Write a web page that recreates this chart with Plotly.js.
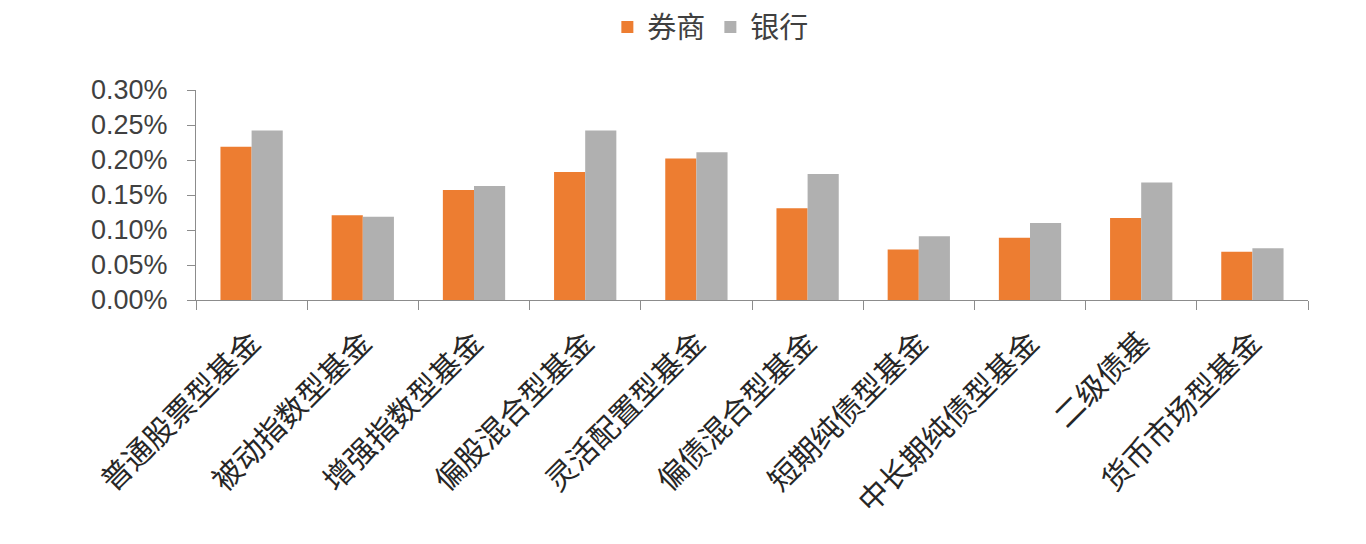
<!DOCTYPE html>
<html>
<head>
<meta charset="utf-8">
<script src="https://cdn.plot.ly/plotly-3.0.1.min.js"></script>
<style>
  html, body { margin: 0; padding: 0; background: #fff; }
  #chart { width: 1366px; height: 544px; }
</style>
</head>
<body>
<div id="chart"></div>
<script>
'use strict'

// fund categories along the x axis
const categories = ['普通股票型基金', '被动指数型基金', '增强指数型基金', '偏股混合型基金', '灵活配置型基金',
  '偏债混合型基金', '短期纯债型基金', '中长期纯债型基金', '二级债基', '货币市场型基金'];

// values in percent
const brokerValues = [0.219, 0.121, 0.157, 0.183, 0.202, 0.131, 0.072, 0.089, 0.117, 0.069];
const bankValues = [0.242, 0.119, 0.163, 0.242, 0.211, 0.180, 0.091, 0.110, 0.168, 0.074];

const seriesNames = ['券商', '银行'];
const cjkFont = '"Noto Sans CJK SC", "Noto Sans", sans-serif';

let brokerTrace = {
    x: categories,
    y: brokerValues,
    name: seriesNames[0],
    type: 'bar',
    marker: { color: '#ED7D31' },
    hoverinfo: 'x+y'
}

let bankTrace = {
    x: categories,
    y: bankValues,
    name: seriesNames[1],
    type: 'bar',
    marker: { color: '#B0B0B0' },
    hoverinfo: 'x+y'
}

const layout = {
    width: 1366,
    height: 544,
    margin: { l: 196, r: 58, t: 90, b: 244, autoexpand: false },
    barmode: 'group',
    bargap: 0.44,
    bargroupgap: 0,
    paper_bgcolor: '#ffffff',
    plot_bgcolor: '#ffffff',
    showlegend: true,
    legend: {
        orientation: 'h',
        xref: 'paper',
        yref: 'container',
        x: 0.463,
        xanchor: 'center',
        y: 0.95,
        yanchor: 'middle',
        font: { family: cjkFont, size: 29, color: '#404040' },
        itemwidth: 30,
        tracegroupgap: 0
    },
    xaxis: {
        type: 'category',
        showline: true,
        linecolor: '#8c8c8c',
        linewidth: 1,
        ticks: 'outside',
        tickson: 'boundaries',
        ticklen: 9,
        tickcolor: '#8c8c8c',
        tickangle: -45,
        ticklabelstandoff: 12,
        showgrid: false,
        tickfont: { family: cjkFont, size: 30, color: '#262626' },
        fixedrange: true
    },
    yaxis: {
        range: [0, 0.3],
        dtick: 0.05,
        tickformat: '.2f',
        ticksuffix: '%',
        showline: true,
        linecolor: '#8c8c8c',
        linewidth: 1,
        ticks: 'outside',
        ticklen: 8,
        tickcolor: '#8c8c8c',
        ticklabelstandoff: 14,
        showgrid: false,
        zeroline: false,
        tickfont: { family: '"Liberation Sans", Arial, sans-serif', size: 27, color: '#404040' },
        fixedrange: true
    }
}

const config = {
    displayModeBar: false,
    staticPlot: true
}

Plotly.newPlot('chart', [brokerTrace, bankTrace], layout, config);
</script>
</body>
</html>
